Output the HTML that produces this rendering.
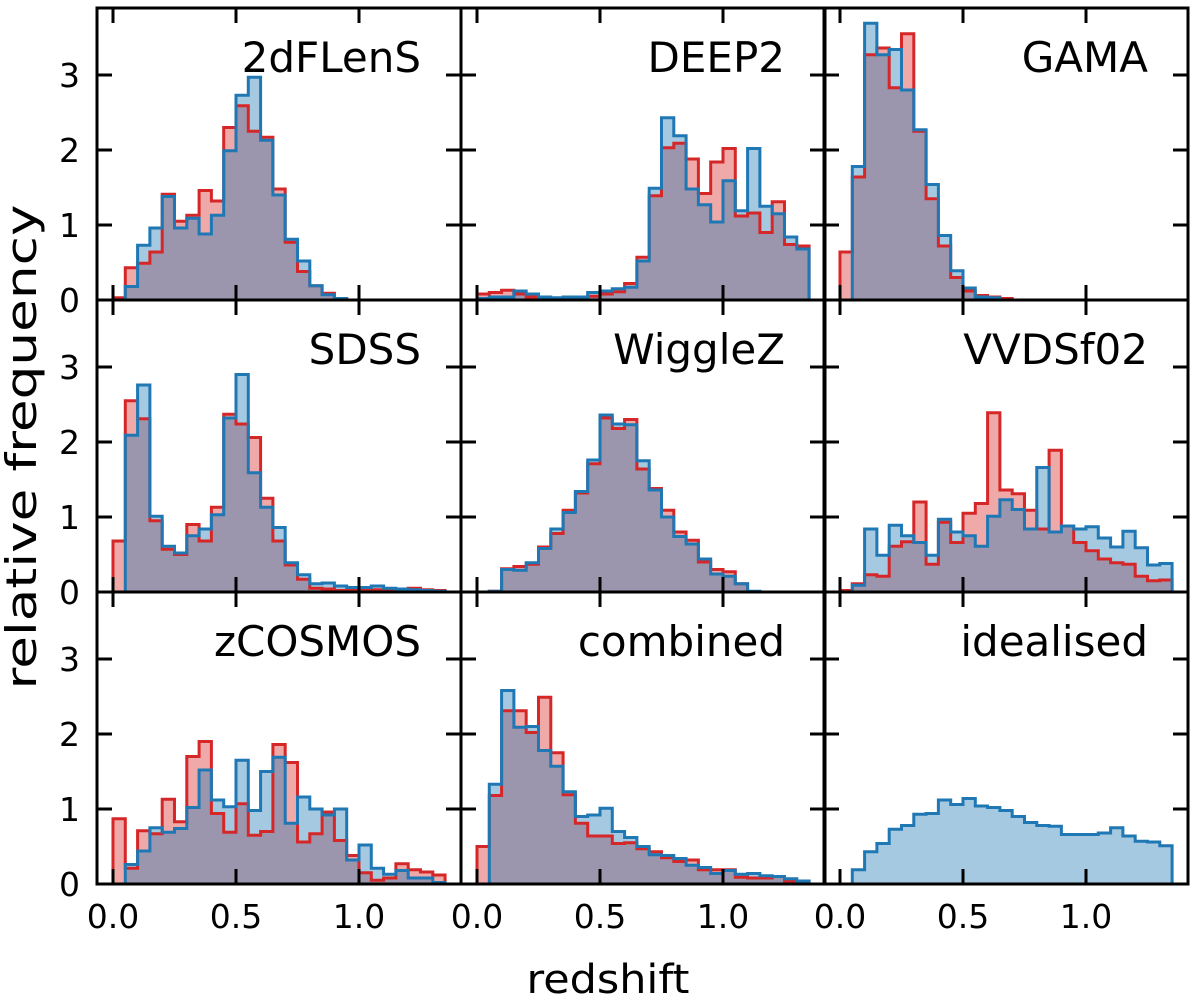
<!DOCTYPE html>
<html><head><meta charset="utf-8"><title>Redshift distributions</title>
<style>
html,body{margin:0;padding:0;background:#fff;}
svg{display:block;font-family:"DejaVu Sans","Liberation Sans",sans-serif;}
</style></head>
<body>
<svg id="chart" width="1200" height="1005" viewBox="0 0 1200 1005" xmlns="http://www.w3.org/2000/svg"></svg>
<script>
const panelNames = ["2dFLenS","DEEP2","GAMA","SDSS","WiggleZ","VVDSf02","zCOSMOS","combined","idealised"];
const binWidth = 0.05;
const xTickValues = [0, 0.5, 1.0];
const xTickLabels = ["0.0","0.5","1.0"];
const yTickValues = [0, 1, 2, 3];
const yTickLabels = ["0","1","2","3"];

const red2dF = [0.03,0.43,0.49,0.64,1.41,1.05,1.13,1.46,1.32,2.30,2.59,2.25,2.17,1.48,0.77,0.38,0.19,0.09,0.02,0,0,0,0,0,0,0,0];
const blue2dF = [0,0.18,0.73,0.96,1.38,0.96,1.09,0.88,1.13,1.99,2.73,2.97,2.13,1.40,0.81,0.52,0.19,0.07,0.02,0,0,0,0,0,0,0,0];
const redDEEP2 = [0.08,0.10,0.13,0.08,0.04,0.02,0.02,0.03,0.04,0.05,0.08,0.11,0.22,0.57,1.39,2.03,2.09,1.88,1.42,1.84,2.02,1.12,1.16,0.90,1.31,0.74,0.72];
const blueDEEP2 = [0.02,0.04,0.04,0.12,0.08,0.04,0.03,0.04,0.04,0.10,0.12,0.15,0.17,0.52,1.49,2.43,2.19,1.48,1.27,1.04,1.59,1.19,2.02,1.25,1.15,0.84,0.68];
const redGAMA = [0.64,1.64,3.27,3.36,2.83,3.55,2.25,1.35,0.72,0.30,0.12,0.06,0.04,0.02,0,0,0,0,0,0,0,0,0,0,0,0,0];
const blueGAMA = [0,1.78,3.69,3.27,3.34,2.80,2.27,1.54,0.86,0.39,0.16,0.04,0.03,0,0,0,0,0,0,0,0,0,0,0,0,0,0];
const redSDSS = [0.68,2.55,2.31,0.95,0.57,0.50,0.90,0.68,1.13,2.37,2.24,2.06,1.25,0.68,0.36,0.17,0.05,0.04,0.02,0.02,0.03,0.03,0.03,0.04,0.05,0.03,0.02];
const blueSDSS = [0,2.09,2.76,1.01,0.61,0.52,0.75,0.84,1.03,2.32,2.90,1.59,1.13,0.86,0.39,0.23,0.11,0.12,0.08,0.06,0.06,0.08,0.05,0.04,0.03,0.02,0.01];
const redWiggleZ = [0,0.01,0.31,0.34,0.37,0.60,0.78,1.09,1.32,1.71,2.32,2.18,2.30,1.64,1.38,1.09,0.80,0.69,0.40,0.30,0.27,0.11,0,0,0,0,0];
const blueWiggleZ = [0,0.01,0.30,0.29,0.39,0.58,0.84,1.06,1.34,1.76,2.36,2.24,2.23,1.75,1.36,1.00,0.74,0.64,0.44,0.24,0.21,0.11,0.01,0,0,0,0];
const redVVDS = [0.02,0.11,0.23,0.21,0.61,0.67,1.20,0.37,0.93,0.66,1.05,1.18,2.39,1.36,1.31,1.09,0.84,1.89,0.88,0.66,0.55,0.44,0.39,0.37,0.21,0.15,0.16];
const blueVVDS = [0,0.09,0.84,0.49,0.89,0.75,0.66,0.49,0.97,0.80,0.75,0.61,1.01,1.23,1.10,0.84,1.66,0.80,0.88,0.84,0.87,0.72,0.60,0.81,0.59,0.36,0.38];
const redCOSMOS = [0.87,0.21,0.71,0.67,1.13,0.83,1.70,1.90,0.94,0.69,1.07,0.65,0.70,1.86,1.62,0.56,0.67,0.96,0.58,0.38,0.15,0.05,0.08,0.27,0.19,0.16,0.12];
const blueCOSMOS = [0,0.26,0.44,0.75,0.69,0.74,1.02,1.52,1.12,1.03,1.65,0.98,1.50,1.69,0.81,1.16,1.00,0.92,1.00,0.32,0.52,0.21,0.13,0.18,0.08,0.08,0.02];
const redCombined = [0.50,1.18,2.31,2.31,2.02,2.49,1.75,1.19,0.81,0.64,0.64,0.54,0.55,0.47,0.43,0.35,0.30,0.32,0.19,0.19,0.19,0.09,0.08,0.08,0.10,0.04,0.03];
const blueCombined = [0,1.33,2.58,2.09,2.10,1.78,1.57,1.23,0.90,0.92,1.01,0.70,0.62,0.50,0.39,0.38,0.34,0.25,0.22,0.14,0.18,0.13,0.14,0.11,0.10,0.07,0.04];
const blueIdealised = [0,0.19,0.43,0.54,0.73,0.78,0.93,0.94,1.12,1.06,1.14,1.04,1.02,0.98,0.90,0.82,0.78,0.77,0.66,0.66,0.66,0.68,0.75,0.64,0.57,0.56,0.51];

const redSeries = [red2dF,redDEEP2,redGAMA,redSDSS,redWiggleZ,redVVDS,redCOSMOS,redCombined,null];
const blueSeries = [blue2dF,blueDEEP2,blueGAMA,blueSDSS,blueWiggleZ,blueVVDS,blueCOSMOS,blueCombined,blueIdealised];

const NS = "http://www.w3.org/2000/svg";
const svg = document.getElementById("chart");
const colLeft = [97, 461, 824];
const rowTop = [8, 300, 592];
const PW = 364, PH = 292;
const XMIN = -0.065, XMAX = XMIN + PW / 246;
const YMIN = 0, YMAX = PH / 75;

function mk(tag, attrs, parent) {
  const e = document.createElementNS(NS, tag);
  for (const k in attrs) e.setAttribute(k, attrs[k]);
  (parent || svg).appendChild(e);
  return e;
}

function histPath(vals, sx, sy) {
  let d = "M" + sx(0).toFixed(2) + "," + sy(0).toFixed(2);
  for (let i = 0; i < vals.length; i++) {
    const x0 = sx(i * binWidth), x1 = sx((i + 1) * binWidth), y = sy(vals[i]);
    d += " L" + x0.toFixed(2) + "," + y.toFixed(2) + " L" + x1.toFixed(2) + "," + y.toFixed(2);
  }
  d += " L" + sx(vals.length * binWidth).toFixed(2) + "," + sy(0).toFixed(2);
  return d;
}

for (let p = 0; p < 9; p++) {
  const c = p % 3, r = Math.floor(p / 3);
  const L = colLeft[c], T = rowTop[r];
  const sx = v => L + (v - XMIN) / (XMAX - XMIN) * PW;
  const sy = v => T + PH - (v - YMIN) / (YMAX - YMIN) * PH;
  const g = mk("g", {});
  
  
  const clipId = "clip" + p;
  const cp = mk("clipPath", {id: clipId}, g);
  mk("rect", {x: L, y: T, width: PW, height: PH}, cp);
  const plot = mk("g", {"clip-path": "url(#" + clipId + ")"}, g);

  const red = redSeries[p], blue = blueSeries[p];
  if (red) {
    const rf = mk("path", {d: histPath(red, sx, sy) + " Z", fill: "#d62728", "fill-opacity": 0.4, stroke: "none"}, plot);
    
    
  }
  if (blue) {
    const bf = mk("path", {d: histPath(blue, sx, sy) + " Z", fill: "#1f77b4", "fill-opacity": 0.4, stroke: "none"}, plot);
    
    
  }
  if (red) {
    const rl = mk("path", {d: histPath(red, sx, sy), fill: "none", stroke: "#d62728", "stroke-width": 3, "stroke-linejoin": "miter"}, plot);
    
    
  }
  if (blue) {
    const bl = mk("path", {d: histPath(blue, sx, sy), fill: "none", stroke: "#1f77b4", "stroke-width": 3, "stroke-linejoin": "miter"}, plot);
    
    
  }

  const tl = 15;
  xTickValues.forEach(v => {
    const x = sx(v);
    mk("line", {x1: x, y1: T + PH, x2: x, y2: T + PH - tl, stroke: "#000", "stroke-width": 3}, g);
    mk("line", {x1: x, y1: T, x2: x, y2: T + tl, stroke: "#000", "stroke-width": 3}, g);
  });
  yTickValues.forEach(v => {
    const y = sy(v);
    mk("line", {x1: L, y1: y, x2: L + tl, y2: y, stroke: "#000", "stroke-width": 3}, g);
    mk("line", {x1: L + PW, y1: y, x2: L + PW - tl, y2: y, stroke: "#000", "stroke-width": 3}, g);
  });
  const fr = mk("rect", {x: L, y: T, width: PW, height: PH, fill: "none", stroke: "#000", "stroke-width": 3}, g);
  
  

  const t = mk("text", {x: L + PW - 40, y: T + 64, "text-anchor": "end", "font-size": 42, fill: "#000"}, g);
  t.textContent = panelNames[p];
  
  

  if (c === 0) {
    yTickValues.forEach((v, i) => {
      const yl = mk("text", {x: 80, y: sy(v) + 12, "text-anchor": "end", "font-size": 33, fill: "#000"}, g);
      yl.textContent = yTickLabels[i];
      
      
    });
  }
  if (r === 2) {
    xTickValues.forEach((v, i) => {
      const xl = mk("text", {x: sx(v), y: 928, "text-anchor": "middle", "font-size": 33, fill: "#000"}, g);
      xl.textContent = xTickLabels[i];
      
      
    });
  }
}

const xt = mk("text", {x: 608, y: 993, "text-anchor": "middle", "font-size": 40, fill: "#000", textLength: 163, lengthAdjust: "spacingAndGlyphs"});
xt.textContent = "redshift";


const yt = mk("text", {x: 0, y: 0, "text-anchor": "middle", "font-size": 42, fill: "#000", textLength: 485, lengthAdjust: "spacingAndGlyphs", transform: "translate(36,447) rotate(-90)"});
yt.textContent = "relative frequency";


</script>
</body></html>
